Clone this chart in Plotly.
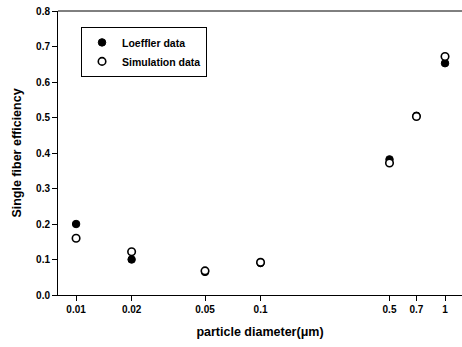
import plotly.graph_objects as go

diameters = [0.01, 0.02, 0.05, 0.1, 0.5, 0.7, 1]
tick_labels = ["0.01", "0.02", "0.05", "0.1", "0.5", "0.7", "1"]
y_ticks = [0.0, 0.1, 0.2, 0.3, 0.4, 0.5, 0.6, 0.7, 0.8]
loeffler = [0.20, 0.10, 0.065, 0.09, 0.382, 0.505, 0.653]
simulation = [0.16, 0.122, 0.068, 0.092, 0.372, 0.503, 0.672]

font = "Liberation Sans, Arial, sans-serif"

fig = go.Figure()
fig.add_trace(go.Scatter(
    x=diameters, y=loeffler, mode="markers", name="<b>Loeffler data</b>",
    cliponaxis=False,
    marker=dict(symbol="circle", size=7.5, color="black", line=dict(color="black", width=1)),
))
fig.add_trace(go.Scatter(
    x=diameters, y=simulation, mode="markers", name="<b>Simulation data</b>",
    cliponaxis=False,
    marker=dict(symbol="circle", size=7.5, color="white", line=dict(color="black", width=1.6)),
))

fig.update_layout(
    width=462, height=347,
    margin=dict(l=58, r=0, t=11, b=52),
    plot_bgcolor="white", paper_bgcolor="white",
    font=dict(family=font, size=10, color="black"),
    showlegend=True,
    legend=dict(
        x=0.057, y=0.944, xanchor="left", yanchor="top",
        bordercolor="black", borderwidth=1, bgcolor="white",
        font=dict(family=font, size=10.5, color="black"),
        itemsizing="trace", tracegroupgap=0,
    ),
    xaxis=dict(
        type="log", range=[-2.098, 0.092],
        tickvals=diameters, ticktext=["<b>%s</b>" % t for t in tick_labels],
        showgrid=False, zeroline=False,
        showline=True, linecolor="black", linewidth=1, mirror=False,
        ticks="outside", ticklen=5, tickcolor="black",
        tickfont=dict(family=font, size=10),
        title=dict(text="<b>particle diameter(μm)</b>", font=dict(family=font, size=12.5), standoff=13),
    ),
    yaxis=dict(
        range=[0, 0.8],
        tickvals=y_ticks, ticktext=["<b>%.1f</b>" % v for v in y_ticks],
        showgrid=False, zeroline=False,
        showline=True, linecolor="black", linewidth=1,
        ticks="outside", ticklen=5, tickcolor="black",
        tickfont=dict(family=font, size=10),
        title=dict(text="<b>Single fiber efficiency</b>", font=dict(family=font, size=12.5), standoff=11),
    ),
)
# top border line of the frame
fig.add_shape(type="line", xref="paper", yref="paper", x0=0, x1=1, y0=1, y1=1,
              line=dict(color="black", width=1))

fig.write_html(
    "out.html",
    config={"displayModeBar": False},
    post_script="document.body.style.margin='0';document.body.style.overflow='hidden';",
)
